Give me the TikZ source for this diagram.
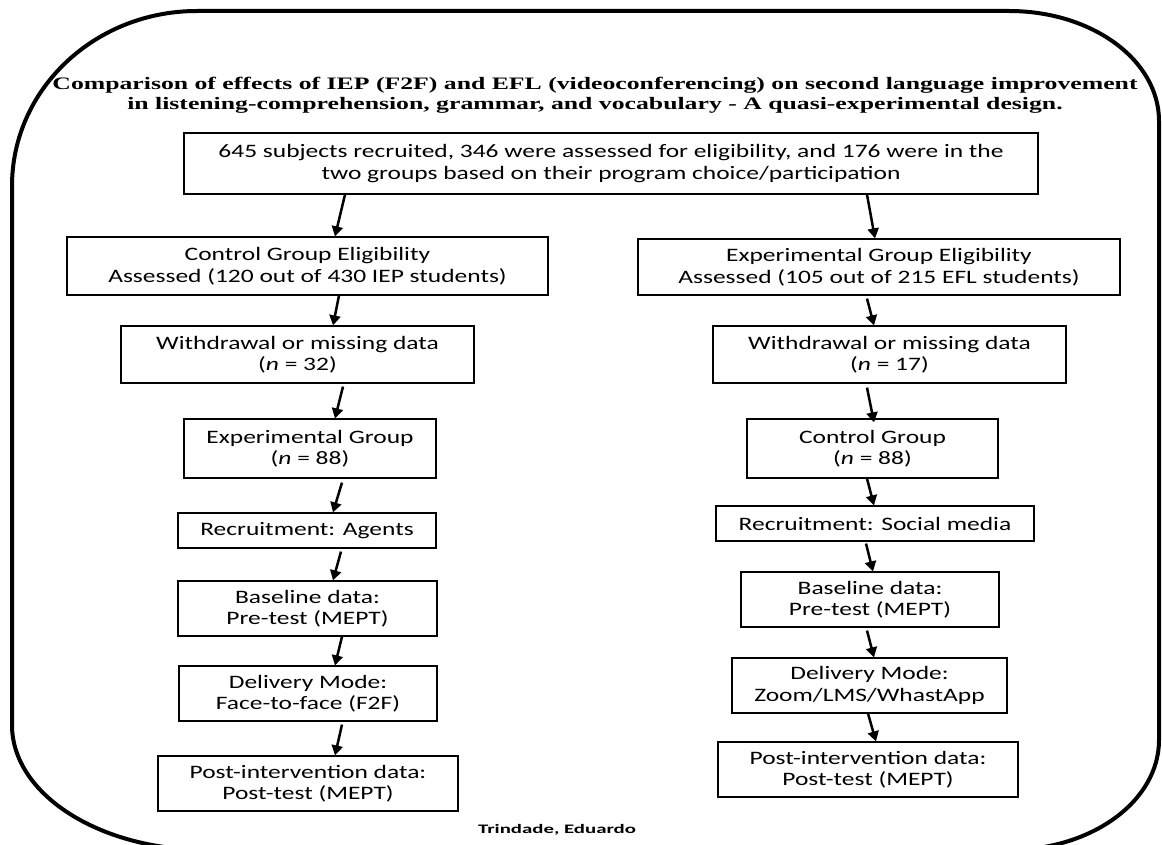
\documentclass[tikz,border=0pt]{standalone}
\usepackage{fontspec}
\usepackage{tikz}
\usetikzlibrary{arrows.meta, positioning, calc}
\newfontfamily\boxfont[FakeStretch=1.34]{Carlito}
\newfontfamily\titlefont[FakeStretch=1.47]{Liberation Serif}
\newfontfamily\namefont[FakeStretch=1.6]{Carlito}
\tikzset{
    flowbox/.style={
        rectangle, draw=black, line width=1.2pt, fill=white,
        align=center, inner sep=0pt,
        font=\boxfont\fontsize{19pt}{21.5pt}\selectfont
    },
    flowarrow/.style={draw=black, line width=2.5pt, -{Triangle[length=10pt, width=11pt]}},
    frameline/.style={draw=black, line width=4pt},
    titletext/.style={align=center, font=\titlefont\bfseries\fontsize{17.5pt}{20pt}\selectfont},
    nametext/.style={font=\namefont\bfseries\fontsize{13pt}{15pt}\selectfont}
}

\begin{document}
\begin{tikzpicture}[x=1pt, y=-1pt]
    \useasboundingbox (0,0) rectangle (1162,845);
    \fill[white] (0,0) rectangle (1162,845);

    % Outer frame
    \draw[frameline] (12,186) .. controls (12,89) and (95,11) .. (197,11)
        -- (1009,11) .. controls (1092,11) and (1159,60) .. (1159,121)
        -- (1159,740) .. controls (1159,801) and (1092,850) .. (1009,850)
        -- (207,850) .. controls (99,850) and (12,794) .. (12,725) -- cycle;

    % Title
    \node[titletext] (title) at (595,95) {Comparison of effects of IEP (F2F) and EFL (videoconferencing) on second language improvement\\in listening-comprehension, grammar, and vocabulary - A quasi-experimental design.};

    % Recruitment
    \node[flowbox, minimum width=854, minimum height=61] (recruited) at (611,163.5) {645 subjects recruited, 346 were assessed for eligibility, and 176 were in the\\two groups based on their program choice/participation};

    % Left column (IEP)
    \node[flowbox, minimum width=481, minimum height=58] (ctrlelig) at (307.5,266) {Control Group Eligibility\\Assessed (120 out of 430 IEP students)};
    \node[flowbox, minimum width=353, minimum height=57] (withdrawL) at (297.5,354.5) {Withdrawal or missing data\\(\textit{n} = 32)};
    \node[flowbox, minimum width=252, minimum height=59] (expgroup) at (310,448.5) {Experimental Group\\(\textit{n} = 88)};
    \node[flowbox, minimum width=258, minimum height=35] (agentsL) at (307,530.5) {Recruitment: Agents};
    \node[flowbox, minimum width=259, minimum height=55] (baselineL) at (307.5,608.5) {Baseline data:\\Pre-test (MEPT)};
    \node[flowbox, minimum width=258, minimum height=55] (deliveryL) at (308,693.5) {Delivery Mode:\\Face-to-face (F2F)};
    \node[flowbox, minimum width=300, minimum height=55] (postL) at (308,783.5) {Post-intervention data:\\Post-test (MEPT)};

    % Right column (EFL)
    \node[flowbox, minimum width=482, minimum height=56] (expelig) at (879,267) {Experimental Group Eligibility\\Assessed (105 out of 215 EFL students)};
    \node[flowbox, minimum width=353, minimum height=57] (withdrawR) at (889.5,354.5) {Withdrawal or missing data\\(\textit{n} = 17)};
    \node[flowbox, minimum width=251, minimum height=59] (ctrlgroup) at (872.5,448.5) {Control Group\\(\textit{n} = 88)};
    \node[flowbox, minimum width=318, minimum height=35] (socialR) at (875,523.5) {Recruitment: Social media};
    \node[flowbox, minimum width=258, minimum height=55] (baselineR) at (870,599.5) {Baseline data:\\Pre-test (MEPT)};
    \node[flowbox, minimum width=275, minimum height=55] (deliveryR) at (869.5,685.5) {Delivery Mode:\\Zoom/LMS/WhastApp};
    \node[flowbox, minimum width=300, minimum height=55] (postR) at (868,769.5) {Post-intervention data:\\Post-test (MEPT)};

    % Author
    \node[nametext] (author) at (557,830) {Trindade, Eduardo};

    % Arrows, left
    \draw[flowarrow] (recruited.south -| 345,0) -- (ctrlelig.north -| 335,0);
    \draw[flowarrow] (ctrlelig.south -| 339,0) -- (withdrawL.north -| 333,0);
    \draw[flowarrow] ([yshift=-3]withdrawL.south -| 343,0) -- (expgroup.north -| 335,0);
    \draw[flowarrow] ([yshift=-4]expgroup.south -| 342,0) -- (agentsL.north -| 333,0);
    \draw[flowarrow] ([yshift=-3]agentsL.south -| 341,0) -- (baselineL.north -| 333,0);
    \draw[flowarrow] (baselineL.south -| 342,0) -- (deliveryL.north -| 335,0);
    \draw[flowarrow] ([yshift=-3]deliveryL.south -| 342,0) -- (postL.north -| 335,0);

    % Arrows, right
    \draw[flowarrow] (recruited.south -| 867,0) -- (expelig.north -| 875,0);
    \draw[flowarrow] ([yshift=-3]expelig.south -| 867,0) -- (withdrawR.north -| 874,0);
    \draw[flowarrow] ([yshift=-4]withdrawR.south -| 867,0) -- ([yshift=-4]ctrlgroup.north -| 874,0);
    \draw[flowarrow] (ctrlgroup.south -| 867,0) -- (socialR.north -| 874,0);
    \draw[flowarrow] ([yshift=-2]socialR.south -| 866,0) -- (baselineR.north -| 873,0);
    \draw[flowarrow] ([yshift=-3]baselineR.south -| 867,0) -- (deliveryR.north -| 874,0);
    \draw[flowarrow] (deliveryR.south -| 868,0) -- (postR.north -| 876,0);
\end{tikzpicture}
\end{document}
